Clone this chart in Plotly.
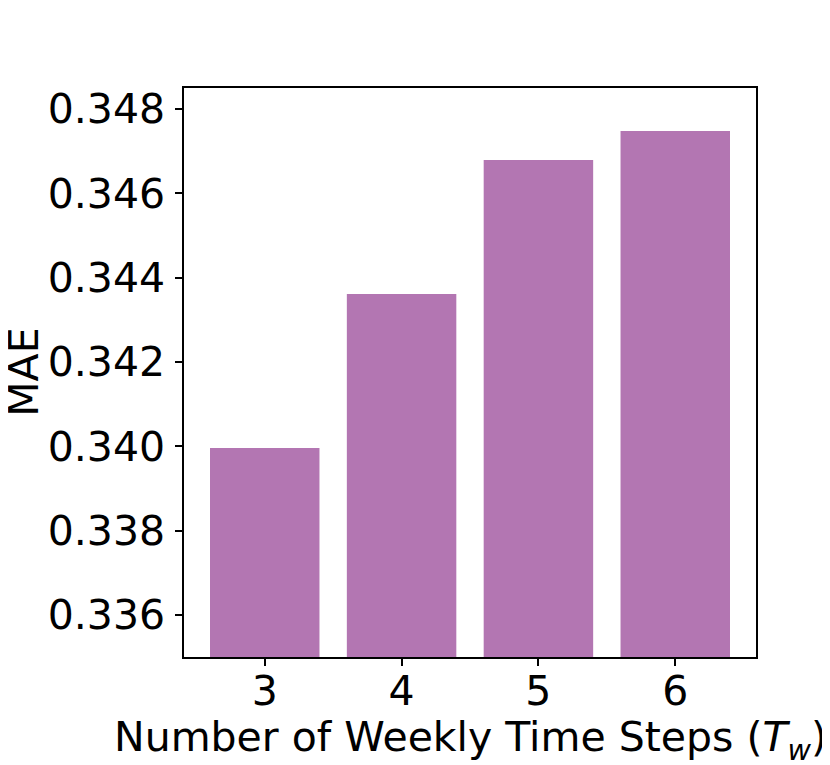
import plotly.graph_objects as go

steps = ["3", "4", "5", "6"]
mae = [0.33996, 0.34361, 0.34679, 0.34748]
y_ticks = [0.336, 0.338, 0.340, 0.342, 0.344, 0.346, 0.348]

fig = go.Figure(go.Bar(
    x=list(range(len(steps))),
    y=mae,
    width=0.8,
    marker_color="#b376b2",
    marker_line_width=0,
))

axis_style = dict(
    showline=True, linecolor="black", linewidth=1.5, mirror=True,
    ticks="outside", ticklen=7, tickwidth=1.5, tickcolor="black",
    showgrid=False, zeroline=False,
    tickfont=dict(family="DejaVu Sans", size=41, color="black"),
)

# page body adds ~8px offset, so the figure is a bit smaller than the window
fig.update_layout(
    width=822, height=757,
    paper_bgcolor="white", plot_bgcolor="white",
    margin=dict(l=176, r=74, t=80, b=108),
    showlegend=False,
    font=dict(family="DejaVu Sans", color="black"),
)
fig.update_xaxes(
    range=[-0.59, 3.59],
    tickvals=list(range(len(steps))), ticktext=steps,
    ticklabelstandoff=-10,
    **axis_style,
)
fig.update_yaxes(
    range=[0.3350, 0.3485],
    tickvals=y_ticks, ticktext=[f"{v:.3f}" for v in y_ticks],
    ticklabelstandoff=2,
    **axis_style,
)

# axis titles
fig.add_annotation(
    text="Number of Weekly Time Steps (<i>T</i><sub><i>w</i></sub>)",
    xref="paper", yref="paper", x=0.5, y=-0.145,
    xanchor="center", yanchor="middle", showarrow=False,
    font=dict(size=41, color="black"),
)
fig.add_annotation(
    text="MAE", textangle=-90,
    xref="paper", yref="paper", x=-0.281, y=0.5,
    xanchor="center", yanchor="middle", showarrow=False,
    font=dict(size=41, color="black"),
)

fig.write_html("out.html")
